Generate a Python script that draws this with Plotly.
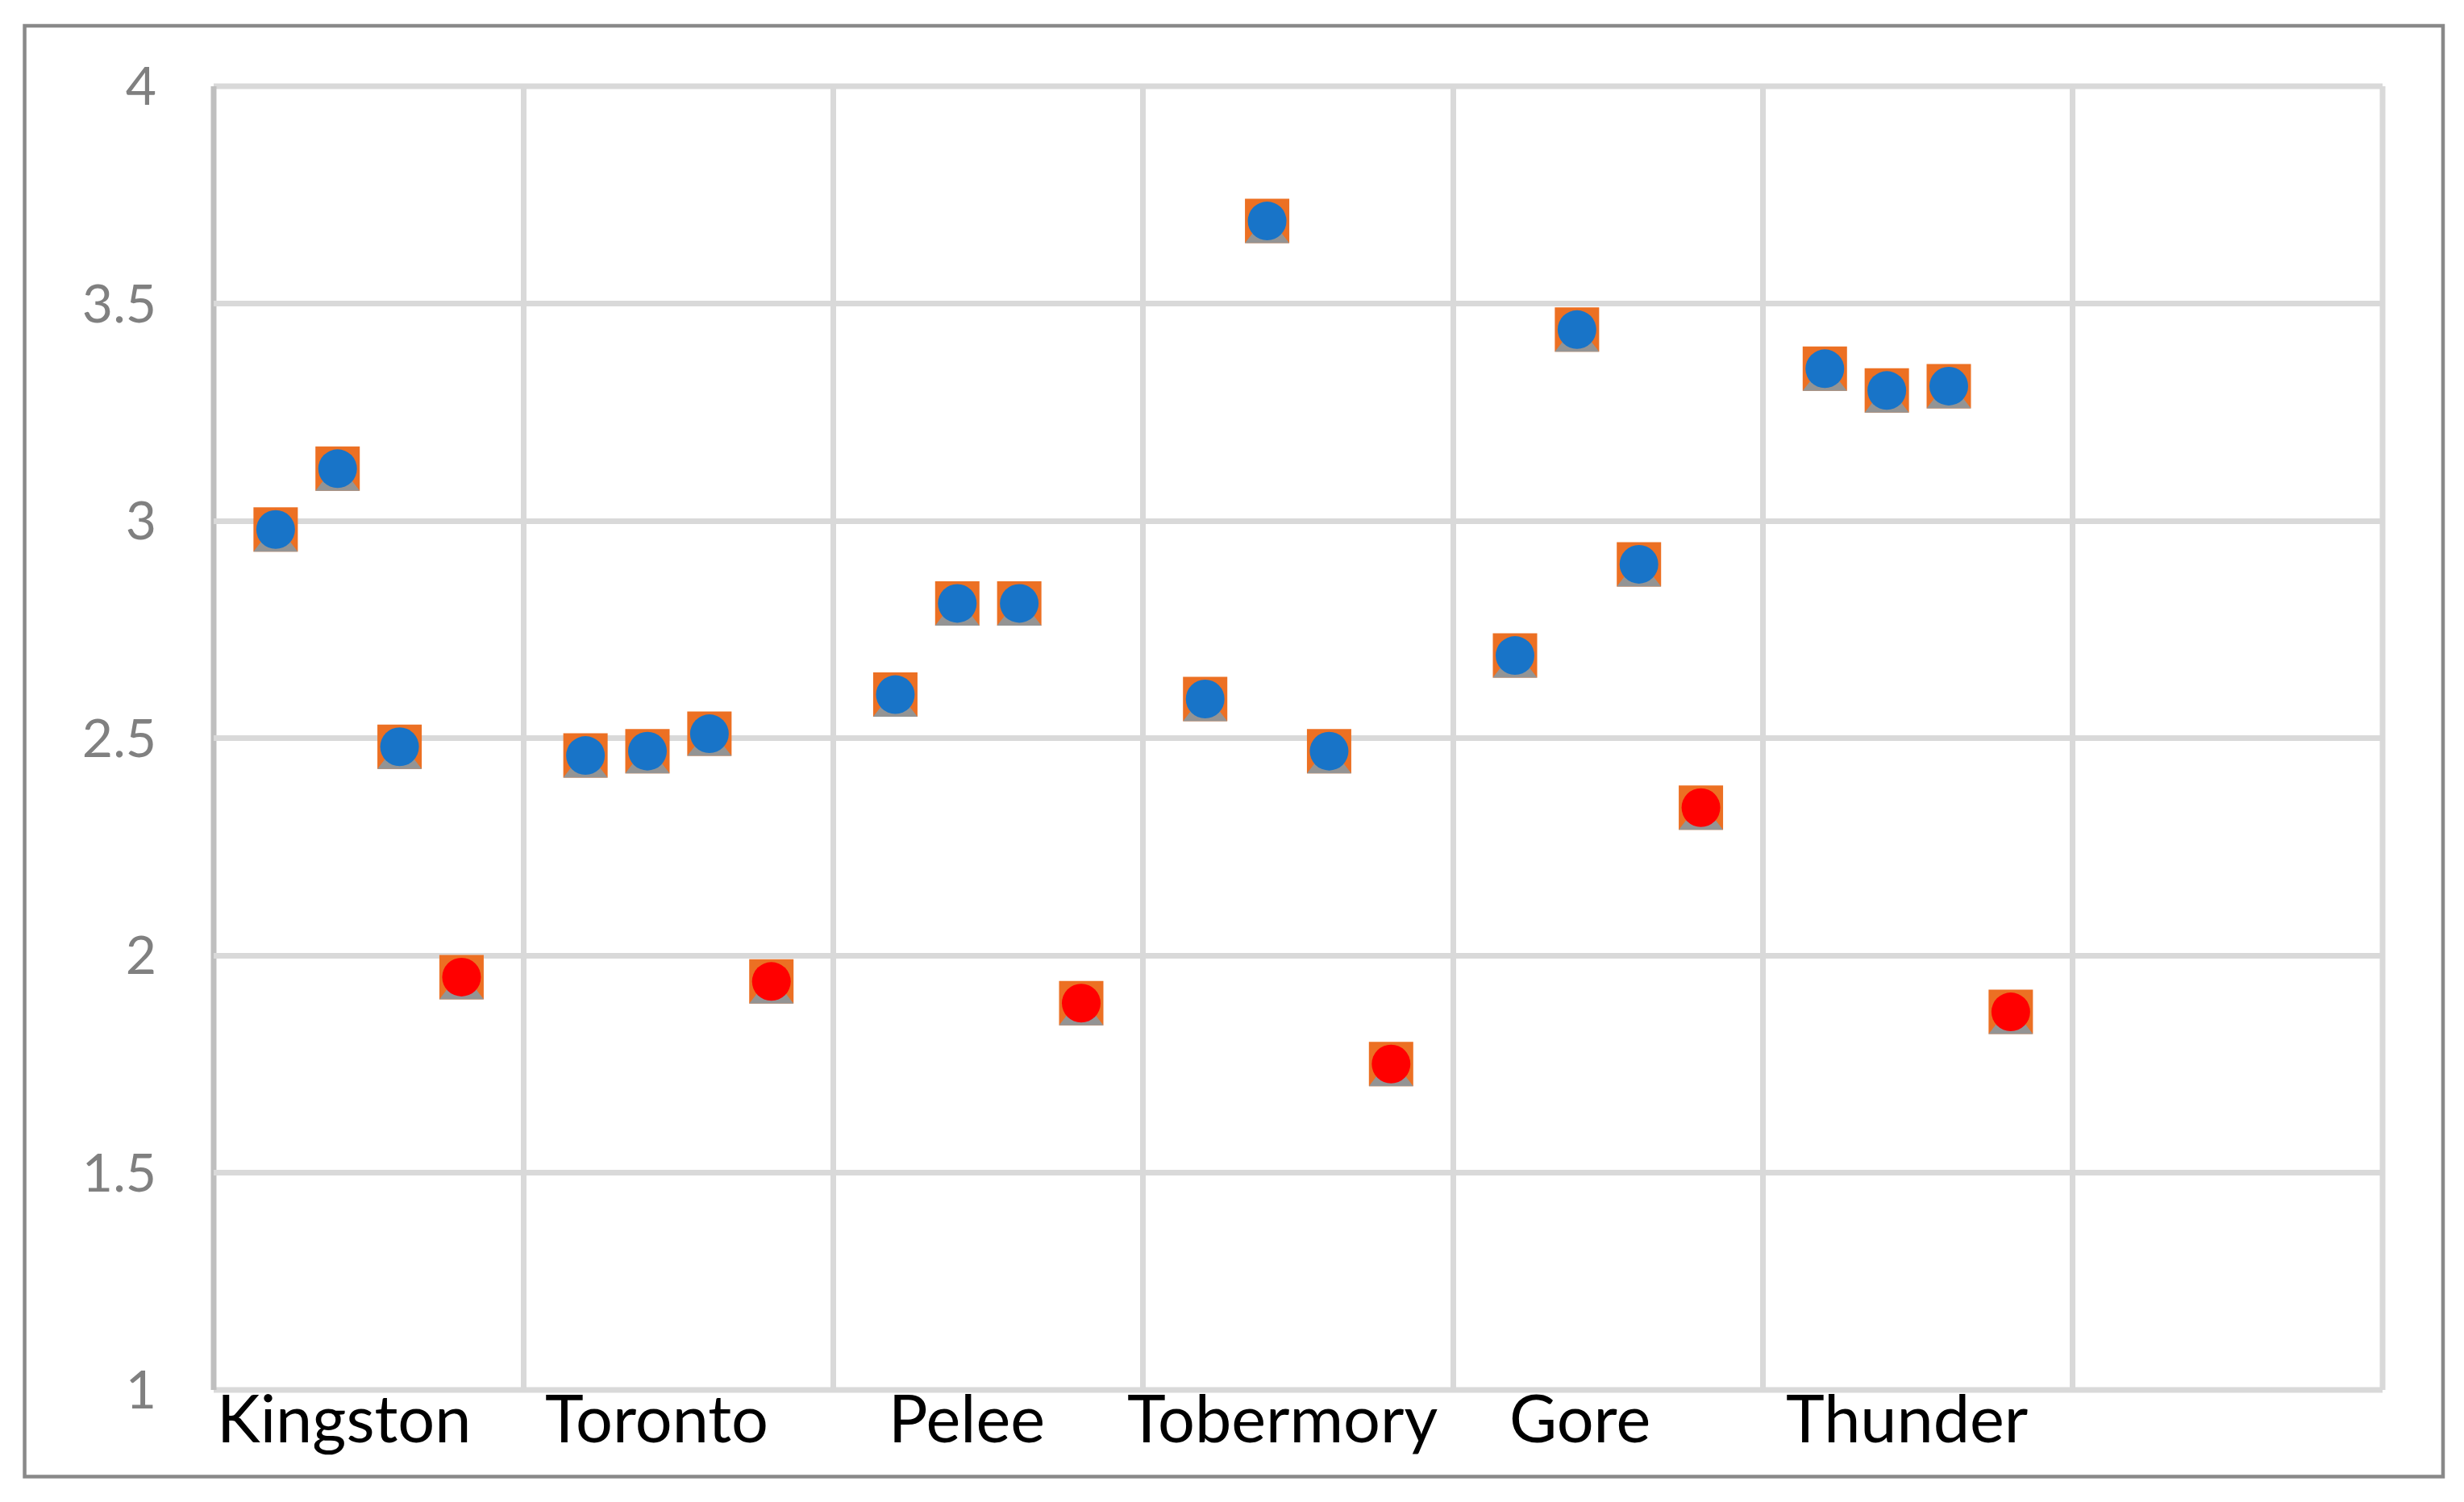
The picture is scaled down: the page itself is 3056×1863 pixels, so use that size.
import plotly.graph_objects as go

# ---- data ----
categories = ["Kingston", "Toronto", "Pelee", "Tobermory", "Gore", "Thunder"]
series_1 = [2.98, 2.46, 2.60, 2.59, 2.69, 3.35]
series_2 = [3.12, 2.47, 2.81, 3.69, 3.44, 3.30]
series_3 = [2.48, 2.51, 2.81, 2.47, 2.90, 3.31]
series_4 = [1.95, 1.94, 1.89, 1.75, 2.34, 1.87]
y_ticks = [1, 1.5, 2, 2.5, 3, 3.5, 4]

# positions of the four points inside each category band, and label offsets
point_offsets = [0.2, 0.4, 0.6, 0.8]
label_offsets = [0.42, 0.43, 0.43, 0.45, 0.41, 0.465]

all_series = [series_1, series_2, series_3, series_4]
circle_colors = ["#1874C8", "#1874C8", "#1874C8", "#FF0000"]

xs, ys, cs = [], [], []
for gi, cat in enumerate(categories):
    for si, s in enumerate(all_series):
        xs.append(gi + point_offsets[si])
        ys.append(s[gi])
        cs.append(circle_colors[si])

fig = go.Figure()
fig.add_trace(go.Scatter(x=xs, y=ys, mode="markers", hoverinfo="skip",
                         marker=dict(symbol="square", size=55, color="#EC7023",
                                     line=dict(width=0))))
fig.add_trace(go.Scatter(x=xs, y=ys, mode="markers", hoverinfo="skip",
                         marker=dict(symbol="triangle-up", size=47.6, color="#949494",
                                     standoff=15.6, line=dict(width=0))))
fig.add_trace(go.Scatter(x=xs, y=ys, mode="markers", hoverinfo="skip",
                         marker=dict(symbol="circle", size=48, color=cs,
                                     line=dict(width=0))))

annotations = []
for gi, cat in enumerate(categories):
    annotations.append(dict(x=gi + label_offsets[gi], xref="x", y=-0.021, yref="paper",
                            text=cat, showarrow=False, xanchor="center", yanchor="middle",
                            font=dict(family="Lato", size=81, color="#000000")))

# page body has an 8px default margin -> shift everything by 8px
OFF = 8
W, H = 3056 - OFF, 1863 - OFF
PL, PR, PT, PB = 264.5, 2955, 107, 1724.5   # plot edges in page pixels
L, T = PL - OFF, PT - OFF
R = W - (PR - OFF)
B = H - (PB - OFF)
pw, ph = W - L - R, H - T - B

def px_x(p):
    return (p - OFF - L) / pw

def px_y(p):
    return (H - B - (p - OFF)) / ph

shapes = [
    dict(type="rect", xref="paper", yref="paper",
         x0=px_x(30), x1=px_x(3030), y0=px_y(1832), y1=px_y(32),
         line=dict(color="#898989", width=4.5), fillcolor="rgba(0,0,0,0)", layer="below"),
    dict(type="line", xref="paper", yref="paper", x0=1, x1=1, y0=0, y1=1,
         line=dict(color="#D9D9D9", width=7), layer="below"),
    dict(type="line", xref="paper", yref="paper", x0=0, x1=1, y0=1, y1=1,
         line=dict(color="#D9D9D9", width=7), layer="below"),
    dict(type="line", xref="paper", yref="paper", x0=0, x1=1, y0=0, y1=0,
         line=dict(color="#D9D9D9", width=7), layer="below"),
    dict(type="line", xref="paper", yref="paper", x0=0, x1=0, y0=0, y1=1,
         line=dict(color="#BFBFBF", width=7), layer="below"),
]

fig.update_layout(
    width=W, height=H,
    margin=dict(l=L, r=R, t=T, b=B, pad=0),
    paper_bgcolor="white", plot_bgcolor="white",
    showlegend=False,
    annotations=annotations,
    shapes=shapes,
    xaxis=dict(range=[0, 7], tick0=0, dtick=1, showgrid=True, gridcolor="#D9D9D9",
               gridwidth=7, showline=False,
               zeroline=False, showticklabels=False, ticks="", fixedrange=True),
    yaxis=dict(range=[1, 4], tickvals=y_ticks, ticktext=[f"{v:g}" for v in y_ticks],
               showgrid=True, gridcolor="#D9D9D9", gridwidth=7,
               showline=False, zeroline=False,
               ticks="", ticklabelstandoff=70,
               tickfont=dict(family="Lato", size=66, color="#808080"), fixedrange=True),
)

fig.write_html("out.html")
